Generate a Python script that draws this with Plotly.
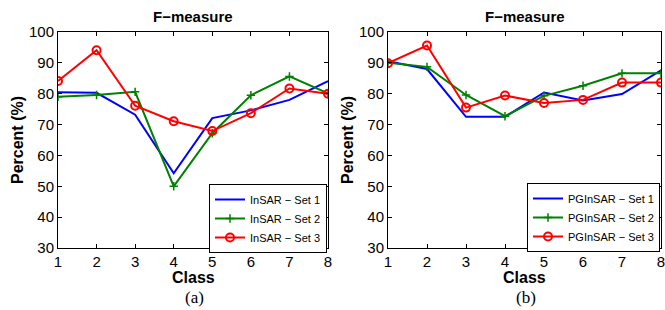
import plotly.graph_objects as go

classes = [1, 2, 3, 4, 5, 6, 7, 8]

insar_set1 = [80.5, 80.3, 73.2, 54.2, 72.1, 74.6, 78.0, 84.1]
insar_set2 = [79.0, 79.6, 80.6, 50.0, 67.2, 79.5, 85.6, 80.1]
insar_set3 = [84.1, 94.1, 76.1, 71.1, 67.9, 73.7, 81.7, 80.0]

pginsar_set1 = [90.5, 88.0, 72.5, 72.5, 80.4, 77.8, 79.9, 87.6]
pginsar_set2 = [90.0, 88.7, 79.6, 72.7, 79.3, 82.6, 86.6, 86.6]
pginsar_set3 = [89.9, 95.6, 75.5, 79.4, 77.0, 78.0, 83.6, 83.6]

left_names = ["InSAR \u2212 Set 1", "InSAR \u2212 Set 2", "InSAR \u2212 Set 3"]
right_names = ["PGInSAR \u2212 Set 1", "PGInSAR \u2212 Set 2", "PGInSAR \u2212 Set 3"]

colors = ["#0000ff", "#008000", "#ff0000"]

fig = go.Figure()

def add_series(vals, name, color, idx, xa, ya, legend):
    marker = dict(size=1, color=color)
    mode = "lines"
    if idx == 1:
        mode = "lines+markers"
        marker = dict(symbol="cross-thin-open", size=6, color=color, line=dict(color=color, width=1.5))
    elif idx == 2:
        mode = "lines+markers"
        marker = dict(symbol="circle-open", size=8, color=color, line=dict(color=color, width=2))
    fig.add_trace(go.Scatter(x=classes, y=vals, name=name, mode=mode,
                             line=dict(color=color, width=2), marker=marker,
                             xaxis=xa, yaxis=ya, legend=legend))

for i, (v, n) in enumerate(zip([insar_set1, insar_set2, insar_set3], left_names)):
    add_series(v, n, colors[i], i, "x", "y", "legend")
for i, (v, n) in enumerate(zip([pginsar_set1, pginsar_set2, pginsar_set3], right_names)):
    add_series(v, n, colors[i], i, "x2", "y2", "legend2")

W, H = 665, 310
tickfont = dict(family="Liberation Sans, Arial, sans-serif", size=15, color="black")
axis_common = dict(showgrid=False, zeroline=False, showline=True, linecolor="black", linewidth=1,
                   mirror="ticks", ticks="inside", ticklen=4, tickcolor="black", tickfont=tickfont,
                   automargin=False, ticklabeloverflow="allow")

ydom = [1 - 248 / H, 1 - 32 / H]
fig.update_layout(
    width=W, height=H, margin=dict(l=0, r=0, t=0, b=0, pad=0, autoexpand=False),
    paper_bgcolor="white", plot_bgcolor="white",
    font=dict(family="Liberation Sans, Arial, sans-serif", color="black"),
    showlegend=True,
    xaxis=dict(domain=[58 / W, 328 / W], range=[1, 8], tickvals=classes, anchor="y", **axis_common),
    yaxis=dict(domain=ydom, range=[30, 100], dtick=10, anchor="x", **axis_common),
    xaxis2=dict(domain=[388 / W, 661 / W], range=[1, 8], tickvals=classes, anchor="y2", **axis_common),
    yaxis2=dict(domain=ydom, range=[30, 100], dtick=10, anchor="x2", **axis_common),
    legend=dict(x=327 / W, y=1 - 184 / H, xanchor="right", yanchor="top", bgcolor="white",
                bordercolor="black", borderwidth=1, font=dict(size=11), tracegroupgap=0,
                itemwidth=30),
    legend2=dict(x=660 / W, y=1 - 183 / H, xanchor="right", yanchor="top", bgcolor="white",
                 bordercolor="black", borderwidth=1, font=dict(size=11), tracegroupgap=0,
                 itemwidth=30),
)

title_font = dict(family="Liberation Sans, Arial, sans-serif", size=15, color="black")
ann = []
for cx in [(58 + 328) / 2, (388 + 661) / 2]:
    ann.append(dict(text="<b>F\u2212measure</b>", x=cx / W, y=1 - 17 / H, xref="paper", yref="paper",
                    showarrow=False, font=title_font, xanchor="center", yanchor="middle"))
    ann.append(dict(text="<b>Class</b>", x=cx / W, y=1 - 277 / H, xref="paper", yref="paper",
                    showarrow=False, font=dict(family="Liberation Sans, Arial, sans-serif", size=16, color="black"),
                    xanchor="center", yanchor="middle"))
for lx in [17, 347]:
    ann.append(dict(text="<b>Percent (%)</b>", x=lx / W, y=1 - 140 / H, xref="paper", yref="paper",
                    showarrow=False, font=dict(family="Liberation Sans, Arial, sans-serif", size=16, color="black"),
                    textangle=-90, xanchor="center", yanchor="middle"))
for cx, t in [(194, "(a)"), (526, "(b)")]:
    ann.append(dict(text=t, x=cx / W, y=1 - 297 / H, xref="paper", yref="paper", showarrow=False,
                    font=dict(family="Liberation Serif, Times New Roman, serif", size=17, color="black"),
                    xanchor="center", yanchor="middle"))
fig.update_layout(annotations=ann)

fig.write_html("out.html", config={"displayModeBar": False},
               post_script="document.body.style.margin='0';document.body.style.overflow='hidden';")
